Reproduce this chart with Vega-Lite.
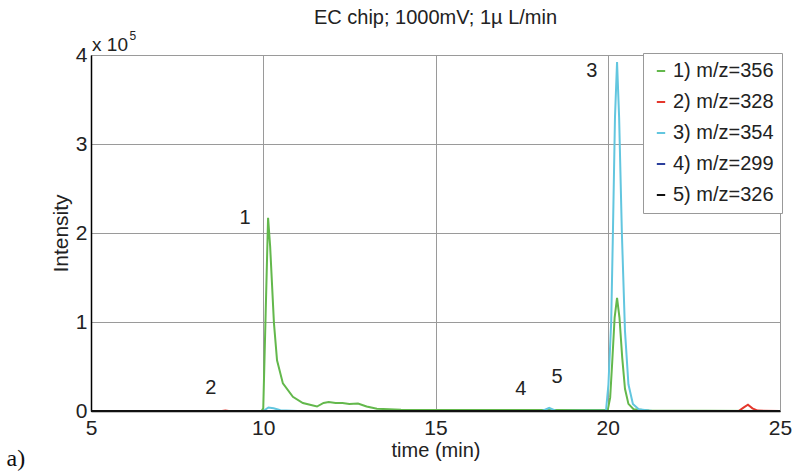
{
  "$schema": "https://vega.github.io/schema/vega-lite/v6.json",
  "width": 689,
  "height": 356,
  "autosize": "none",
  "padding": {"left": 91, "top": 55, "right": 17, "bottom": 63},
  "background": "white",
  "config": {
    "font": "Liberation Sans",
    "view": {"stroke": "#999999", "strokeWidth": 1}
  },
  "title": {
    "text": "EC chip; 1000mV; 1µ L/min",
    "fontSize": 20,
    "fontWeight": "normal",
    "color": "#222222",
    "anchor": "middle",
    "offset": 2
  },
  "datasets": {
    "series": [
      {"t": 5.0, "intensity": 0, "ion": "1) m/z=356"},
      {"t": 9.95, "intensity": 0, "ion": "1) m/z=356"},
      {"t": 10.0, "intensity": 3000, "ion": "1) m/z=356"},
      {"t": 10.07, "intensity": 110000, "ion": "1) m/z=356"},
      {"t": 10.14, "intensity": 217000, "ion": "1) m/z=356"},
      {"t": 10.2, "intensity": 185000, "ion": "1) m/z=356"},
      {"t": 10.31, "intensity": 99000, "ion": "1) m/z=356"},
      {"t": 10.4, "intensity": 57000, "ion": "1) m/z=356"},
      {"t": 10.57, "intensity": 31000, "ion": "1) m/z=356"},
      {"t": 10.86, "intensity": 16000, "ion": "1) m/z=356"},
      {"t": 11.15, "intensity": 9000, "ion": "1) m/z=356"},
      {"t": 11.56, "intensity": 5000, "ion": "1) m/z=356"},
      {"t": 11.75, "intensity": 9000, "ion": "1) m/z=356"},
      {"t": 11.9, "intensity": 10000, "ion": "1) m/z=356"},
      {"t": 12.1, "intensity": 9000, "ion": "1) m/z=356"},
      {"t": 12.3, "intensity": 9000, "ion": "1) m/z=356"},
      {"t": 12.5, "intensity": 8000, "ion": "1) m/z=356"},
      {"t": 12.75, "intensity": 8500, "ion": "1) m/z=356"},
      {"t": 13.0, "intensity": 5000, "ion": "1) m/z=356"},
      {"t": 13.3, "intensity": 2500, "ion": "1) m/z=356"},
      {"t": 14.0, "intensity": 1500, "ion": "1) m/z=356"},
      {"t": 16.0, "intensity": 1000, "ion": "1) m/z=356"},
      {"t": 19.0, "intensity": 1000, "ion": "1) m/z=356"},
      {"t": 20.0, "intensity": 1000, "ion": "1) m/z=356"},
      {"t": 20.07, "intensity": 15000, "ion": "1) m/z=356"},
      {"t": 20.13, "intensity": 55000, "ion": "1) m/z=356"},
      {"t": 20.2, "intensity": 105000, "ion": "1) m/z=356"},
      {"t": 20.27, "intensity": 127000, "ion": "1) m/z=356"},
      {"t": 20.34, "intensity": 105000, "ion": "1) m/z=356"},
      {"t": 20.42, "intensity": 60000, "ion": "1) m/z=356"},
      {"t": 20.5, "intensity": 25000, "ion": "1) m/z=356"},
      {"t": 20.6, "intensity": 8000, "ion": "1) m/z=356"},
      {"t": 20.75, "intensity": 2000, "ion": "1) m/z=356"},
      {"t": 21.2, "intensity": 500, "ion": "1) m/z=356"},
      {"t": 25.0, "intensity": 0, "ion": "1) m/z=356"},

      {"t": 5.0, "intensity": 0, "ion": "2) m/z=328"},
      {"t": 8.8, "intensity": 0, "ion": "2) m/z=328"},
      {"t": 8.9, "intensity": 600, "ion": "2) m/z=328"},
      {"t": 9.0, "intensity": 0, "ion": "2) m/z=328"},
      {"t": 23.8, "intensity": 0, "ion": "2) m/z=328"},
      {"t": 23.95, "intensity": 4000, "ion": "2) m/z=328"},
      {"t": 24.07, "intensity": 7000, "ion": "2) m/z=328"},
      {"t": 24.2, "intensity": 3000, "ion": "2) m/z=328"},
      {"t": 24.35, "intensity": 500, "ion": "2) m/z=328"},
      {"t": 25.0, "intensity": 0, "ion": "2) m/z=328"},

      {"t": 5.0, "intensity": 0, "ion": "3) m/z=354"},
      {"t": 10.0, "intensity": 0, "ion": "3) m/z=354"},
      {"t": 10.15, "intensity": 4000, "ion": "3) m/z=354"},
      {"t": 10.3, "intensity": 3000, "ion": "3) m/z=354"},
      {"t": 10.5, "intensity": 800, "ion": "3) m/z=354"},
      {"t": 11.0, "intensity": 0, "ion": "3) m/z=354"},
      {"t": 18.1, "intensity": 0, "ion": "3) m/z=354"},
      {"t": 18.3, "intensity": 3500, "ion": "3) m/z=354"},
      {"t": 18.5, "intensity": 0, "ion": "3) m/z=354"},
      {"t": 19.95, "intensity": 500, "ion": "3) m/z=354"},
      {"t": 20.02, "intensity": 30000, "ion": "3) m/z=354"},
      {"t": 20.1, "intensity": 100000, "ion": "3) m/z=354"},
      {"t": 20.15, "intensity": 200000, "ion": "3) m/z=354"},
      {"t": 20.21, "intensity": 330000, "ion": "3) m/z=354"},
      {"t": 20.27, "intensity": 392000, "ion": "3) m/z=354"},
      {"t": 20.33, "intensity": 330000, "ion": "3) m/z=354"},
      {"t": 20.41, "intensity": 200000, "ion": "3) m/z=354"},
      {"t": 20.5, "intensity": 90000, "ion": "3) m/z=354"},
      {"t": 20.6, "intensity": 30000, "ion": "3) m/z=354"},
      {"t": 20.73, "intensity": 8000, "ion": "3) m/z=354"},
      {"t": 20.9, "intensity": 2000, "ion": "3) m/z=354"},
      {"t": 21.3, "intensity": 0, "ion": "3) m/z=354"},
      {"t": 25.0, "intensity": 0, "ion": "3) m/z=354"},

      {"t": 5.0, "intensity": 0, "ion": "4) m/z=299"},
      {"t": 25.0, "intensity": 0, "ion": "4) m/z=299"},

      {"t": 5.0, "intensity": 0, "ion": "5) m/z=326"},
      {"t": 25.0, "intensity": 0, "ion": "5) m/z=326"}
    ],
    "notes": [
      {"t": 9.47, "v": 217000, "label": "1"},
      {"t": 8.48, "v": 26000, "label": "2"},
      {"t": 19.54, "v": 382000, "label": "3"},
      {"t": 17.48, "v": 25000, "label": "4"},
      {"t": 18.53, "v": 38000, "label": "5"}
    ],
    "exponent": [
      {"t": 5.03, "v": 411000, "label": "x 10", "kind": "base"},
      {"t": 6.12, "v": 421000, "label": "5", "kind": "sup"}
    ],
    "panel": [
      {"t": 2.55, "v": -54000, "label": "a)"}
    ]
  },
  "layer": [
    {
      "data": {"name": "series"},
      "mark": {"type": "line", "strokeWidth": 2, "interpolate": "linear"},
      "encoding": {
        "x": {
          "field": "t", "type": "quantitative",
          "scale": {"domain": [5, 25], "nice": false, "zero": false},
          "axis": {
            "values": [5, 10, 15, 20, 25],
            "title": "time (min)",
            "titleFontSize": 20, "titleFontWeight": "normal", "titleColor": "#222222",
            "titlePadding": 2,
            "labelFontSize": 21, "labelColor": "#222222", "labelPadding": 6,
            "labelFlush": false,
            "domainColor": "#000000", "domainWidth": 1.5,
            "ticks": false,
            "grid": true, "gridColor": "#9a9a9a", "gridWidth": 1
          }
        },
        "y": {
          "field": "intensity", "type": "quantitative",
          "scale": {"domain": [0, 400000], "nice": false},
          "axis": {
            "values": [0, 100000, 200000, 300000, 400000],
            "labelExpr": "format(datum.value / 100000, 'd')",
            "title": "Intensity",
            "titleFontSize": 21, "titleFontWeight": "normal", "titleColor": "#222222",
            "titlePadding": 4,
            "labelFontSize": 21, "labelColor": "#222222", "labelPadding": 4,
            "labelFlush": false,
            "domainColor": "#000000", "domainWidth": 1.5,
            "ticks": false,
            "grid": true, "gridColor": "#9a9a9a", "gridWidth": 1
          }
        },
        "color": {
          "field": "ion", "type": "nominal",
          "scale": {
            "domain": ["1) m/z=356", "2) m/z=328", "3) m/z=354", "4) m/z=299", "5) m/z=326"],
            "range": ["#63b84c", "#e4372c", "#62c6df", "#2b3f9c", "#111111"]
          },
          "legend": {
            "title": null,
            "orient": "top-right",
            "offset": -2,
            "symbolType": "stroke",
            "symbolSize": 70,
            "symbolStrokeWidth": 2,
            "labelFontSize": 20,
            "labelColor": "#222222",
            "labelOffset": 2,
            "rowPadding": 11,
            "padding": 8,
            "fillColor": "white",
            "strokeColor": "#999999"
          }
        }
      }
    },
    {
      "data": {"name": "notes"},
      "mark": {"type": "text", "fontSize": 20, "color": "#222222", "align": "center", "baseline": "middle"},
      "encoding": {
        "x": {"field": "t", "type": "quantitative"},
        "y": {"field": "v", "type": "quantitative"},
        "text": {"field": "label"}
      }
    },
    {
      "data": {"name": "exponent"},
      "transform": [{"filter": "datum.kind === 'base'"}],
      "mark": {"type": "text", "fontSize": 19, "color": "#222222", "align": "left", "baseline": "middle"},
      "encoding": {
        "x": {"field": "t", "type": "quantitative"},
        "y": {"field": "v", "type": "quantitative"},
        "text": {"field": "label"}
      }
    },
    {
      "data": {"name": "exponent"},
      "transform": [{"filter": "datum.kind === 'sup'"}],
      "mark": {"type": "text", "fontSize": 12, "color": "#222222", "align": "left", "baseline": "middle"},
      "encoding": {
        "x": {"field": "t", "type": "quantitative"},
        "y": {"field": "v", "type": "quantitative"},
        "text": {"field": "label"}
      }
    },
    {
      "data": {"name": "panel"},
      "mark": {"type": "text", "fontSize": 24, "font": "Liberation Serif", "color": "#111111", "align": "left", "baseline": "middle"},
      "encoding": {
        "x": {"field": "t", "type": "quantitative"},
        "y": {"field": "v", "type": "quantitative"},
        "text": {"field": "label"}
      }
    }
  ]
}
